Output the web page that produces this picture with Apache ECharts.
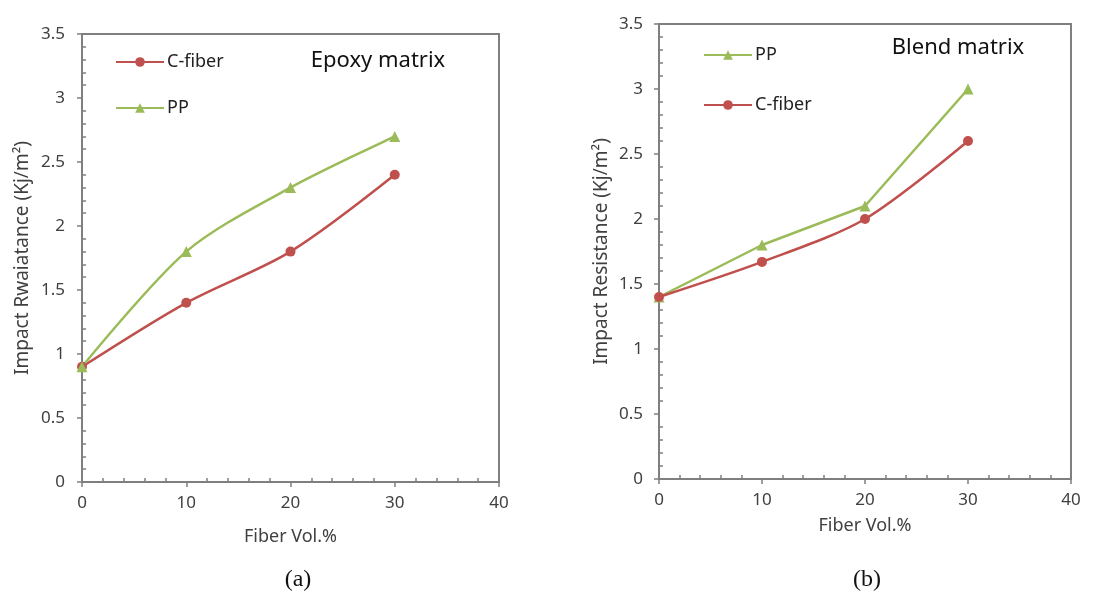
<!DOCTYPE html>
<html>
<head>
<meta charset="utf-8">
<script src="https://cdn.jsdelivr.net/npm/echarts@6/dist/echarts.min.js"></script>
<style>
  html, body { margin: 0; padding: 0; background: #fff; }
  #chart { width: 1095px; height: 592px; }
</style>
</head>
<body>
<div id="chart"></div>
<script>
// fiber volume fraction, %
var fiberVol = [0, 10, 20, 30];
// (a) epoxy matrix
var epoxyCFiber = [0.9, 1.4, 1.8, 2.4];
var epoxyPP = [0.9, 1.8, 2.3, 2.7];
// (b) blend matrix
var blendPP = [1.4, 1.8, 2.1, 3.0];
var blendCFiber = [1.4, 1.67, 2.0, 2.6];

var RED = '#c0504d';
var GREEN = '#9bbb59';
var AXIS = '#7f7f7f';
var FONT = 'Noto Sans';

function pairs(xs, ys) {
    return xs.map(function (x, i) { return [x, ys[i]]; });
}

function xAxis(idx, nameGap) {
    return {
        gridIndex: idx,
        type: 'value',
        min: 0, max: 40, interval: 10,
        name: 'Fiber Vol.%',
        nameLocation: 'middle',
        nameGap: nameGap,
        nameTextStyle: { fontFamily: FONT, fontSize: 18, color: '#404040' },
        axisLine: { lineStyle: { color: AXIS, width: 2 } },
        axisTick: { length: 5, lineStyle: { color: AXIS, width: 1.5 } },
        minorTick: { show: true, splitNumber: 5, length: -4, lineStyle: { color: AXIS, width: 1.5 } },
        splitLine: { show: false },
        axisLabel: { margin: 13, fontFamily: FONT, fontSize: 17, color: '#404040' },
    };
}

function yAxis(idx, name, nameGap, labelMargin) {
    return {
        gridIndex: idx,
        type: 'value',
        min: 0, max: 3.5, interval: 0.5,
        name: name,
        nameLocation: 'middle',
        nameGap: nameGap,
        nameTextStyle: { fontFamily: FONT, fontSize: 19, color: '#404040' },
        axisLine: { lineStyle: { color: AXIS, width: 2 } },
        axisTick: { length: 5, lineStyle: { color: AXIS, width: 1.5 } },
        minorTick: { show: true, splitNumber: 5, length: -4, lineStyle: { color: AXIS, width: 1.5 } },
        splitLine: { show: false },
        axisLabel: { margin: labelMargin, fontFamily: FONT, fontSize: 17, color: '#404040' },
    };
}

function lineSeries(name, idx, data, color, symbol, smooth) {
    return {
        name: name,
        type: 'line',
        xAxisIndex: idx,
        yAxisIndex: idx,
        data: data,
        smooth: smooth,
        symbol: symbol,
        symbolSize: symbol === 'circle' ? 10 : 11,
        itemStyle: { color: color },
        lineStyle: { color: color, width: 2.5 },
    };
}

function legend(names, left, top, gap) {
    return {
        orient: 'vertical',
        left: left, top: top,
        itemWidth: 48, itemHeight: 12, itemGap: gap,
        selectedMode: false,
        data: names,
        textStyle: { fontFamily: FONT, fontSize: 18, color: '#222', lineHeight: 22, padding: [0, 0, 0, -2] },
    };
}

function label(text, x, y, size, family) {
    return {
        type: 'text', x: x, y: y,
        style: { text: text, fill: '#111', font: size + 'px "' + family + '"', textAlign: 'center', textVerticalAlign: 'middle' },
    };
}

var myChart = echarts.init(document.getElementById('chart'));
myChart.setOption({
    animation: false,
    grid: [
        { left: 82, top: 34, width: 417, height: 448, show: true, borderColor: AXIS, borderWidth: 2 },
        { left: 659, top: 24, width: 412, height: 455, show: true, borderColor: AXIS, borderWidth: 2 },
    ],
    xAxis: [xAxis(0, 46), xAxis(1, 38)],
    yAxis: [
        yAxis(0, 'Impact Rwaiatance (Kj/m\u00b2)', 50, 17),
        yAxis(1, 'Impact Resistance (Kj/m\u00b2)', 48, 16),
    ],
    legend: [
        legend(['C-fiber', 'PP'], 110, 46, 24),
        legend(['PP ', 'C-fiber '], 698, 39, 28),
    ],
    graphic: [
        label('Epoxy matrix', 378, 61, 22, FONT),
        label('Blend matrix', 958, 48, 22, FONT),
        label('(a)', 298, 580, 24, 'Liberation Serif'),
        label('(b)', 867, 580, 24, 'Liberation Serif'),
    ],
    series: [
        lineSeries('C-fiber', 0, pairs(fiberVol, epoxyCFiber), RED, 'circle', 0.3),
        lineSeries('PP', 0, pairs(fiberVol, epoxyPP), GREEN, 'triangle', 0.3),
        lineSeries('PP ', 1, pairs(fiberVol, blendPP), GREEN, 'triangle', false),
        lineSeries('C-fiber ', 1, pairs(fiberVol, blendCFiber), RED, 'circle', 0.3),
    ],
});
</script>
</body>
</html>
